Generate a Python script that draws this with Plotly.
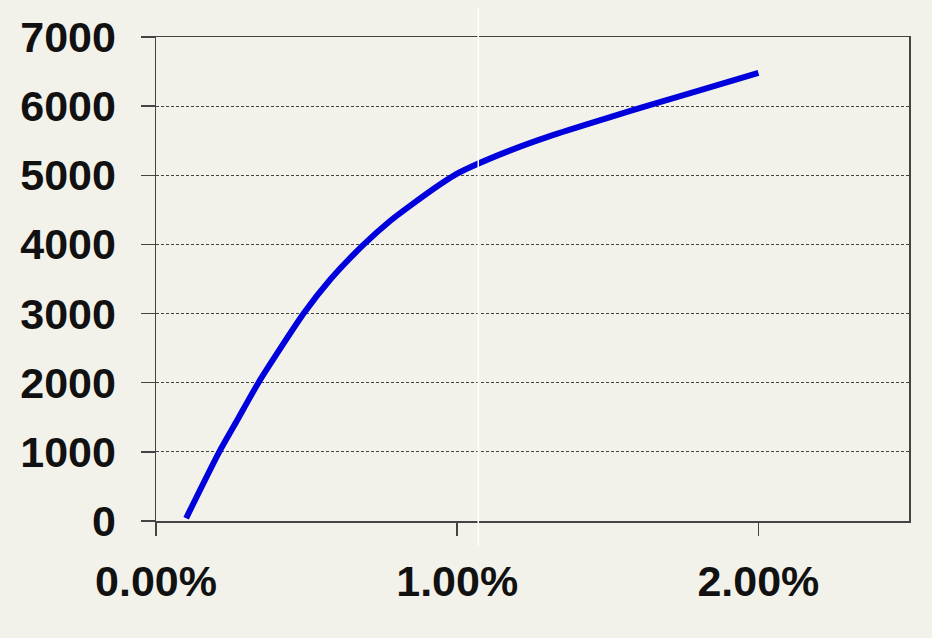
import plotly.graph_objects as go

# Data
rate_pct = [0.10, 0.21, 0.27, 0.34, 0.49, 0.58, 0.69, 0.78, 0.85, 0.94,
            0.99, 1.05, 1.17, 1.31, 1.50, 1.65, 1.83, 2.00]
value = [40, 1000, 1460, 2000, 3000, 3500, 4000, 4350, 4580, 4860,
         5000, 5130, 5350, 5570, 5830, 6030, 6260, 6480]

x_tickvals = [0, 1, 2]
x_ticktext = ["0.00%", "1.00%", "2.00%"]
y_tickvals = [0, 1000, 2000, 3000, 4000, 5000, 6000, 7000]

bg = "#f3f2ea"
tick_font = dict(family="Liberation Sans, Arial, sans-serif", size=43,
                 color="#111111", weight="bold")

fig = go.Figure()
fig.add_trace(go.Scatter(
    x=rate_pct, y=value, mode="lines",
    line=dict(color="#0000dc", width=6, shape="spline", smoothing=0.6),
    hoverinfo="skip", showlegend=False,
))

fig.update_layout(
    width=932, height=638,
    margin=dict(l=156, r=23, t=37, b=117),
    paper_bgcolor=bg, plot_bgcolor=bg,
    font=dict(family="Liberation Sans, Arial, sans-serif", size=43, color="#111111"),
    showlegend=False,
    shapes=[dict(type="line", xref="x", yref="paper", x0=1.07, x1=1.07,
                 y0=-0.05, y1=1.06, line=dict(color="#ffffff", width=1.5),
                 layer="above")],
)

fig.update_xaxes(
    range=[0, 2.5], tickvals=x_tickvals, ticktext=x_ticktext,
    showgrid=False, zeroline=False,
    showline=True, mirror=True, linecolor="#444444", linewidth=1.5,
    ticks="outside", ticklen=13, tickwidth=1.5, tickcolor="#444444",
    ticklabelstandoff=9,
    tickfont=tick_font,
)
fig.update_yaxes(
    range=[0, 7000], tickvals=y_tickvals,
    showgrid=True, gridcolor="#444444", gridwidth=1, griddash="3px,2px",
    zeroline=False,
    showline=True, mirror=True, linecolor="#444444", linewidth=1.5,
    ticks="outside", ticklen=14, tickwidth=1.5, tickcolor="#444444",
    ticklabelstandoff=16,
    tickfont=tick_font,
)

fig.write_html(
    "out.html",
    config={"displayModeBar": False, "staticPlot": True},
    post_script="document.body.style.margin='0';document.body.style.background='#f3f2ea';",
)
